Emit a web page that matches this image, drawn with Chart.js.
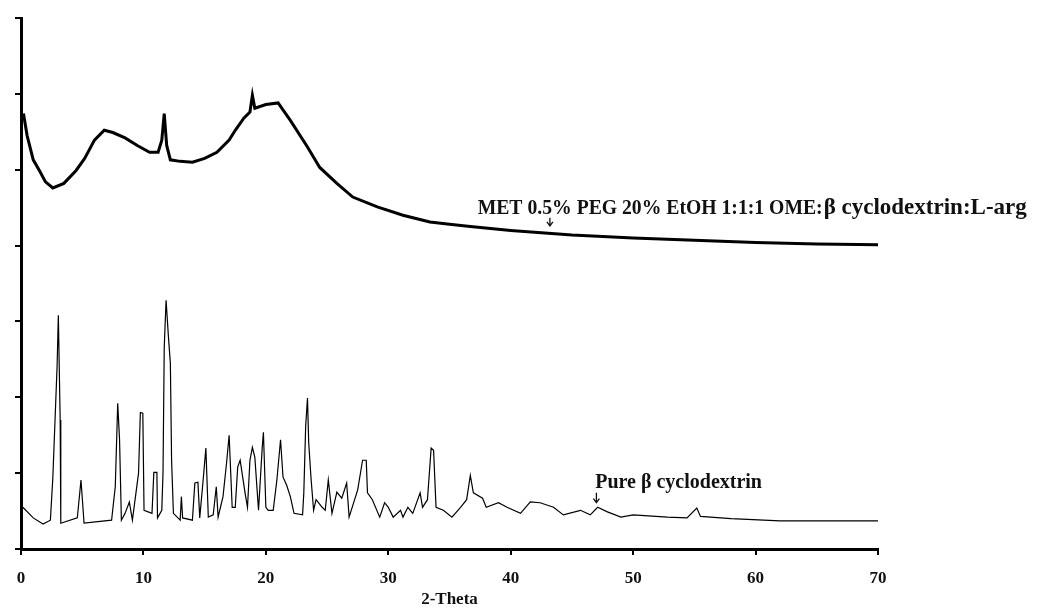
<!DOCTYPE html>
<html>
<head>
<meta charset="utf-8">
<script src="https://cdn.jsdelivr.net/npm/chart.js@4/dist/chart.umd.min.js"></script>
<style>
  body { margin: 0; background: #fff; }
  #wrap { width: 1041px; height: 610px; }
</style>
</head>
<body>
<div id="wrap"><canvas id="xrd"></canvas></div>
<script>
// 2-theta positions and relative intensities (arbitrary units)
const complexTheta = [0.2, 0.5, 1, 1.5, 2, 2.6, 3.5, 4.5, 5.2, 6, 6.8, 7.5, 8.5, 9.5, 10.5, 11.2, 11.5, 11.7, 11.9, 12.2,
  13, 14, 15, 16, 17, 17.5, 18.2, 18.7, 18.9, 19.1, 20, 21, 22, 23.4, 24.4, 25.8, 27.1, 29.1, 31.2, 33.4,
  35, 36.7, 40, 45, 50, 55, 60, 65, 70];
const complexIntensity = [5.74, 5.45, 5.13, 4.99, 4.84, 4.76, 4.82, 4.99, 5.15, 5.39, 5.52, 5.49, 5.42, 5.32, 5.23, 5.23, 5.39, 5.74, 5.32, 5.13,
  5.11, 5.10, 5.15, 5.23, 5.39, 5.52, 5.68, 5.76, 5.98, 5.81, 5.86, 5.88, 5.65, 5.30, 5.03, 4.82, 4.64, 4.51, 4.40, 4.31,
  4.28, 4.25, 4.20, 4.14, 4.10, 4.07, 4.04, 4.02, 4.01];

const pureTheta = [0.15, 1.0, 1.8, 2.4, 2.6, 2.95, 3.05, 3.2, 3.25, 4.6, 4.9, 5.15, 7.4, 7.7, 7.9, 8.05, 8.2, 8.5, 8.85, 9.1,
  9.6, 9.75, 9.95, 10.05, 10.7, 10.85, 11.1, 11.15, 11.5, 11.6, 11.7, 11.85, 12.05, 12.2, 12.3, 12.45, 13.0, 13.1, 13.2, 14.0,
  14.2, 14.45, 14.6, 14.9, 15.1, 15.3, 15.7, 15.95, 16.1, 16.5, 16.8, 17.0, 17.25, 17.5, 17.7, 17.9, 18.3, 18.5, 18.7, 18.9,
  19.1, 19.4, 19.7, 19.8, 20.0, 20.2, 20.6, 20.9, 21.2, 21.4, 21.7, 22.0, 22.3, 23.0, 23.1, 23.25, 23.4, 23.5, 23.7, 23.9,
  24.1, 24.6, 24.85, 25.1, 25.4, 25.8, 26.2, 26.6, 26.8, 27.5, 27.9, 28.2, 28.3, 28.7, 29.3, 29.7, 30.0, 30.4, 31.0, 31.2,
  31.6, 32.0, 32.6, 32.8, 33.2, 33.5, 33.7, 33.9, 34.5, 35.2, 35.9, 36.4, 36.7, 36.95, 37.7, 38.0, 39.0, 39.7, 40.8, 41.6,
  42.4, 43.5, 44.3, 45.7, 46.5, 47.1, 47.9, 49.0, 50.0, 52.8, 54.4, 55.2, 55.5, 58, 62, 66, 70];
const pureIntensity = [0.55, 0.41, 0.33, 0.38, 0.94, 2.42, 3.08, 1.70, 0.34, 0.41, 0.91, 0.34, 0.38, 0.82, 1.92, 1.44, 0.38, 0.47, 0.62, 0.38,
  1.00, 1.80, 1.79, 0.51, 0.47, 1.01, 1.01, 0.41, 0.51, 1.01, 2.66, 3.28, 2.78, 2.45, 1.17, 0.47, 0.38, 0.69, 0.41, 0.38,
  0.87, 0.88, 0.41, 0.95, 1.33, 0.42, 0.45, 0.82, 0.42, 0.69, 1.15, 1.50, 0.55, 0.55, 1.08, 1.17, 0.74, 0.55, 1.17, 1.34,
  1.21, 0.51, 1.33, 1.54, 0.55, 0.51, 0.51, 0.91, 1.44, 0.95, 0.84, 0.69, 0.47, 0.45, 0.74, 1.61, 1.99, 1.40, 0.91, 0.51,
  0.65, 0.55, 0.51, 0.91, 0.47, 0.75, 0.67, 0.87, 0.42, 0.78, 1.17, 1.17, 0.74, 0.65, 0.42, 0.61, 0.55, 0.42, 0.51, 0.42,
  0.55, 0.47, 0.74, 0.55, 0.65, 1.33, 1.30, 0.55, 0.51, 0.42, 0.55, 0.65, 0.97, 0.74, 0.67, 0.55, 0.61, 0.55, 0.47, 0.62,
  0.61, 0.55, 0.45, 0.51, 0.45, 0.55, 0.49, 0.42, 0.45, 0.42, 0.41, 0.54, 0.43, 0.40, 0.37, 0.37, 0.37];

const xTicks = [0, 10, 20, 30, 40, 50, 60, 70];
const complexLabel = 'MET 0.5% PEG 20% EtOH 1:1:1 OME:';
const complexLabelTail = 'β cyclodextrin:L-arg';
const pureLabel = 'Pure β cyclodextrin';

function toPoints(xs, ys) {
    return xs.map((x, i) => ({ x: x, y: ys[i] }));
}

// text labels with little down arrows, placed in data coordinates
const annotations = {
    id: 'annotations',
    afterDatasetsDraw(chart) {
        const ctx = chart.ctx;
        const xs = chart.scales.x;
        const ys = chart.scales.y;
        ctx.save();
        ctx.fillStyle = '#111';
        ctx.strokeStyle = '#111';
        ctx.textBaseline = 'alphabetic';

        const px = xs.getPixelForValue(37.3);
        const py = ys.getPixelForValue(4.41);
        // the first part of the label is set in a narrower face in the original
        ctx.font = 'bold 21px "Liberation Serif"';
        const w = Math.min(ctx.measureText(complexLabel).width, 345);
        ctx.fillText(complexLabel, px, py, 345);
        ctx.font = 'bold 23px "Liberation Serif"';
        ctx.fillText(complexLabelTail, px + w + 1, py);

        ctx.font = 'bold 20px "Liberation Serif"';
        ctx.fillText(pureLabel, xs.getPixelForValue(46.9), ys.getPixelForValue(0.80));

        drawArrow(ctx, xs.getPixelForValue(43.2), ys.getPixelForValue(4.26), 8);
        drawArrow(ctx, xs.getPixelForValue(47.0), ys.getPixelForValue(0.61), 10);
        ctx.restore();
    }
};

function drawArrow(ctx, x, tipY, len) {
    ctx.lineWidth = 1.3;
    ctx.beginPath();
    ctx.moveTo(x, tipY - len);
    ctx.lineTo(x, tipY);
    ctx.moveTo(x - 3, tipY - 4);
    ctx.lineTo(x, tipY);
    ctx.lineTo(x + 3, tipY - 4);
    ctx.stroke();
}

new Chart(document.getElementById('xrd'), {
    type: 'line',
    data: {
        datasets: [{
            label: 'complex',
            data: toPoints(complexTheta, complexIntensity),
            borderColor: '#000',
            borderWidth: 3,
            pointRadius: 0,
            tension: 0
        }, {
            label: 'pure',
            data: toPoints(pureTheta, pureIntensity),
            borderColor: '#000',
            borderWidth: 1.2,
            pointRadius: 0,
            tension: 0
        }]
    },
    options: {
        responsive: true,
        maintainAspectRatio: false,
        animation: false,
        layout: { padding: { top: 18, right: 163, left: 0, bottom: 0 } },
        plugins: { legend: { display: false }, tooltip: { enabled: false } },
        scales: {
            x: {
                type: 'linear',
                min: 0,
                max: 70,
                afterBuildTicks: (scale) => { scale.ticks = xTicks.map(v => ({ value: v })); },
                afterFit: (scale) => { scale.height = 61; },
                border: { display: true, color: '#000', width: 3 },
                grid: { drawOnChartArea: false, drawTicks: true, tickLength: 6, color: '#000', lineWidth: 2 },
                ticks: { color: '#111', padding: 13, font: { family: 'Liberation Serif', weight: 'bold', size: 17 } },
                title: {
                    display: true,
                    text: '2-Theta',
                    color: '#111',
                    padding: { top: 0, bottom: 0 },
                    font: { family: 'Liberation Serif', weight: 'bold', size: 17 }
                }
            },
            y: {
                min: 0,
                max: 7,
                afterFit: (scale) => { scale.width = 21; },
                border: { display: true, color: '#000', width: 3 },
                grid: { drawOnChartArea: false, drawTicks: true, tickLength: 6, color: '#000', lineWidth: 2 },
                ticks: { display: false, stepSize: 1 }
            }
        }
    },
    plugins: [annotations]
});
</script>
</body>
</html>
